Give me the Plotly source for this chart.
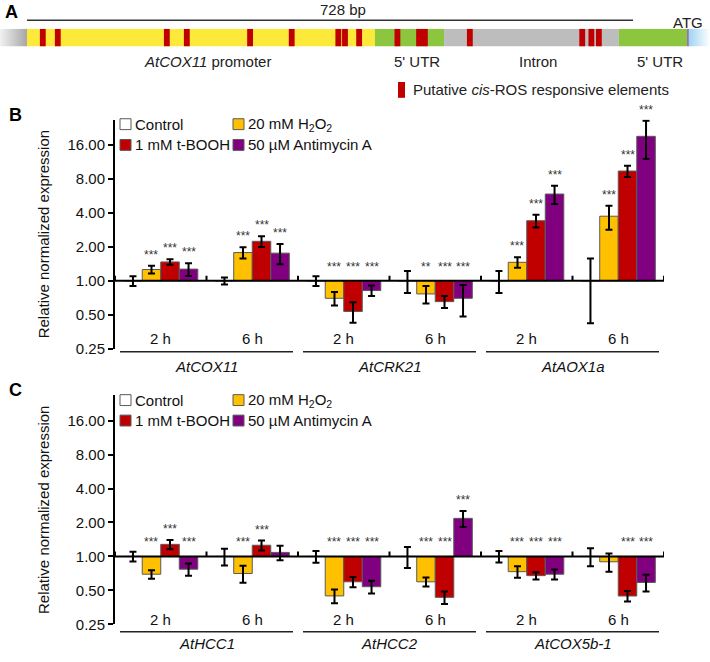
import numpy as np
import plotly.graph_objects as go

W, H = 710, 662
FONT = "Liberation Sans, Arial, sans-serif"
FS = 15

# ---------------- data ----------------
series_names = ["Control", "20 mM H<sub>2</sub>O<sub>2</sub>", "1 mM t-BOOH", "50 µM Antimycin A"]
series_colors = ["#FFFFFF", "#FFC000", "#C00000", "#800080"]
time_labels = ["2 h", "6 h"]
genes_b = ["AtCOX11", "AtCRK21", "AtAOX1a"]
genes_c = ["AtHCC1", "AtHCC2", "AtCOX5b-1"]
y_tick_vals = [0.25, 0.5, 1, 2, 4, 8, 16]
y_tick_text = ["0.25", "0.50", "1.00", "2.00", "4.00", "8.00", "16.00"]
y_title = "Relative normalized expression"

# Panel B (groups: gene x time)
b_control = [1.0, 1.0, 1.0, 1.0, 1.0, 1.0]
b_control_err = [0.10, 0.07, 0.10, 0.22, 0.22, 0.58]
b_h2o2 = [1.26, 1.78, 0.70, 0.765, 1.46, 3.74]
b_h2o2_err = [0.10, 0.20, 0.095, 0.134, 0.155, 0.90]
b_tbooh = [1.47, 2.24, 0.535, 0.654, 3.41, 9.40]
b_tbooh_err = [0.083, 0.25, 0.11, 0.08, 0.44, 1.07]
b_anti = [1.27, 1.76, 0.82, 0.70, 5.88, 19.1]
b_anti_err = [0.164, 0.36, 0.087, 0.217, 1.07, 7.1]
b_sig_h2o2 = ["***", "***", "***", "**", "***", "***"]
b_sig_tbooh = ["***", "***", "***", "***", "***", "***"]
b_sig_anti = ["***", "***", "***", "***", "***", "***"]

# Panel C
c_control = [1.0, 1.0, 1.0, 1.0, 1.0, 1.0]
c_control_err = [0.10, 0.17, 0.12, 0.21, 0.115, 0.18]
c_h2o2 = [0.696, 0.706, 0.447, 0.596, 0.733, 0.897]
c_h2o2_err = [0.06, 0.12, 0.062, 0.055, 0.087, 0.167]
c_tbooh = [1.28, 1.257, 0.596, 0.434, 0.676, 0.446]
c_tbooh_err = [0.12, 0.126, 0.062, 0.055, 0.05, 0.048]
c_anti = [0.771, 1.086, 0.539, 2.177, 0.696, 0.588]
c_anti_err = [0.095, 0.16, 0.07, 0.35, 0.07, 0.10]
c_sig_h2o2 = ["***", "***", "***", "***", "***", ""]
c_sig_tbooh = ["***", "***", "***", "***", "***", "***"]
c_sig_anti = ["***", "", "***", "***", "***", "***"]

# Panel A (positions in bp)
a_span_bp = 728
a_region_start = [0, 418, 501, 711]
a_region_end = [418, 501, 711, 793]
a_region_labels = ["<i>AtCOX11</i> promoter", "5' UTR", "Intron", "5' UTR"]
a_region_colors = ["#FCE93A", "#8CC63F", "#BDBDBD", "#8CC63F"]
a_atg_pos = 793
a_cis_pos = [19, 37, 168, 192, 268, 318, 374, 382, 399, 445, 471, 478, 532, 667, 678, 687]
a_cis_len = 7
a_cis_label = "Putative <i>cis</i>-ROS responsive elements"
a_cis_color = "#C00000"

# ---------------- helpers ----------------
def px_x(p):
    return p / W


def px_y(p):
    return 1 - p / H


def note(text, x, y, xref="paper", yref="paper", size=FS, color="#111",
         xanchor="center", yanchor="middle", **kw):
    fig.add_annotation(text=text, x=x, y=y, xref=xref, yref=yref, showarrow=False,
                       xanchor=xanchor, yanchor=yanchor,
                       font=dict(size=size, color=color, family=FONT), **kw)


fig = go.Figure()
BARGAP = 0.19
BAR_W = (1 - BARGAP) / 4


def add_panel(vals, errs, sigs, xa, ya, genes, y_time, y_line, y_gene, y_leg1, y_leg2):
    n = len(genes) * len(time_labels)
    xs = list(range(n))
    for k in range(4):
        fig.add_trace(go.Bar(
            x=xs, y=[v - 1 for v in vals[k]], base=[1] * n,
            name=series_names[k], showlegend=False,
            marker=dict(color=series_colors[k], line=dict(color="#5a5a5a", width=1)),
            error_y=dict(type="data", array=errs[k], symmetric=True, color="black",
                         thickness=2, width=3.5),
            customdata=vals[k], hovertemplate="%{customdata:.2f}<extra></extra>",
            xaxis=xa, yaxis=ya,
        ))
        if k == 0:
            continue
        for i, s in enumerate(sigs[k - 1]):
            if not s:
                continue
            v, e = vals[k][i], errs[k][i]
            up = v >= 1
            top = v + e if up else 1
            note(s, i + (k - 1.5) * BAR_W, np.log10(top), xref=xa, yref=ya,
                 size=12, color="#333", yanchor="bottom", yshift=2 if up else 5)
    # horizontal baseline at 1.00 with separators
    fig.add_shape(type="line", xref=xa, yref=ya, x0=-0.5, x1=n - 0.5, y0=1, y1=1,
                  line=dict(color="black", width=2))
    for b in range(n + 1):
        fig.add_shape(type="line", xref=xa, yref=ya, x0=b - 0.5, x1=b - 0.5,
                      ysizemode="pixel", yanchor=1, y0=-5, y1=5,
                      line=dict(color="black", width=2))
    pad = 5 / 91.5
    for g, gene in enumerate(genes):
        for t, lab in enumerate(time_labels):
            note(lab, 2 * g + t, px_y(y_time), xref=xa)
        fig.add_shape(type="line", xref=xa, yref="paper",
                      x0=2 * g - 0.5 + pad, x1=2 * g + 1.5 - pad,
                      y0=px_y(y_line), y1=px_y(y_line), line=dict(color="#222", width=1.5))
        note(f"<i>{gene}</i>", 2 * g + 0.5, px_y(y_gene), xref=xa)
    # legend (2 x 2 grid)
    col_x = [120, 233]
    row_y = [y_leg1, y_leg2]
    order = [(0, 0), (0, 1), (1, 0), (1, 1)]
    for k, (r, c) in enumerate(order):
        x0, yc = col_x[c], row_y[r]
        fig.add_shape(type="rect", xref="paper", yref="paper",
                      x0=px_x(x0), x1=px_x(x0 + 11), y0=px_y(yc + 5.5), y1=px_y(yc - 5.5),
                      fillcolor=series_colors[k], line=dict(color="#5a5a5a", width=1))
        note(series_names[k], px_x(x0 + 13), px_y(yc), xanchor="left")


add_panel([b_control, b_h2o2, b_tbooh, b_anti],
          [b_control_err, b_h2o2_err, b_tbooh_err, b_anti_err],
          [b_sig_h2o2, b_sig_tbooh, b_sig_anti],
          "x", "y", genes_b, 343, 356, 371, 125.7, 146.7)
add_panel([c_control, c_h2o2, c_tbooh, c_anti],
          [c_control_err, c_h2o2_err, c_tbooh_err, c_anti_err],
          [c_sig_h2o2, c_sig_tbooh, c_sig_anti],
          "x2", "y2", genes_c, 627, 639.5, 651, 405, 425.7)

# ---------------- panel A ----------------
px_per_bp = (633 - 27) / a_span_bp
a_x_min = -27 / px_per_bp
a_x_max = (W - 27) / px_per_bp

a_base = list(a_region_start) + [p - a_cis_len / 2 for p in a_cis_pos] + [a_atg_pos]
a_len = [e - s for s, e in zip(a_region_start, a_region_end)] + [a_cis_len] * len(a_cis_pos) + [2]
a_cols = list(a_region_colors) + [a_cis_color] * len(a_cis_pos) + ["#9B6FB8"]
fig.add_trace(go.Bar(orientation="h", y=[0] * len(a_base), x=a_len, base=a_base, width=1,
                     marker=dict(color=a_cols, line=dict(width=0)), showlegend=False,
                     hoverinfo="skip", xaxis="x3", yaxis="y3"))
# faded ends
fig.add_trace(go.Scatter(x=[a_x_min, 0, 0, a_x_min, a_x_min], y=[-0.5, -0.5, 0.5, 0.5, -0.5],
                         fill="toself", mode="lines", line=dict(width=0),
                         fillgradient=dict(type="horizontal",
                                           colorscale=[[0, "#f2f2f2"], [1, "#a6a6a6"]]),
                         showlegend=False, hoverinfo="skip", xaxis="x3", yaxis="y3"))
end_start = a_atg_pos + 2
fig.add_trace(go.Scatter(x=[end_start, a_x_max, a_x_max, end_start, end_start],
                         y=[-0.5, -0.5, 0.5, 0.5, -0.5],
                         fill="toself", mode="lines", line=dict(width=0),
                         fillgradient=dict(type="horizontal",
                                           colorscale=[[0, "#9ed4f0"], [1, "#ffffff"]]),
                         showlegend=False, hoverinfo="skip", xaxis="x3", yaxis="y3"))

fig.add_shape(type="line", xref="x3", yref="paper", x0=0, x1=a_span_bp,
              y0=px_y(20.5), y1=px_y(20.5), line=dict(color="#333", width=1.5))
note(f"{a_span_bp} bp", px_x(343), px_y(10), color="#222")
note("ATG", px_x(688), px_y(22.5), color="#222")
for s, e, lab in zip(a_region_start, a_region_end, a_region_labels):
    note(lab, (s + e) / 2, px_y(62), xref="x3", color="#222", xshift=7)
fig.add_shape(type="rect", xref="paper", yref="paper", x0=px_x(398), x1=px_x(405),
              y0=px_y(99), y1=px_y(83), fillcolor=a_cis_color, line=dict(width=0))
note(a_cis_label, px_x(411), px_y(91), xanchor="left", color="#222")

# panel letters
for lab, (lx, ly) in {"A": (12, 12), "B": (15, 116), "C": (15, 395)}.items():
    note(f"<b>{lab}</b>", px_x(lx), px_y(ly), size=18, color="#000")

# ---------------- axes ----------------
x_dom = [px_x(115), px_x(664)]
y_range = [np.log10(0.25), np.log10(2 ** 4.75)]
yax = dict(type="log", range=y_range, tickvals=y_tick_vals, ticktext=y_tick_text,
           ticks="outside", ticklen=5, tickwidth=1.5, tickcolor="black",
           showline=True, linecolor="black", linewidth=2, showgrid=False, zeroline=False,
           tickfont=dict(size=FS, color="#111"),
           title=dict(text=y_title, font=dict(size=FS, color="#111"), standoff=14))
xax = dict(range=[-0.5, 5.5], showline=False, showgrid=False, zeroline=False,
           showticklabels=False, ticks="")

fig.update_layout(
    width=W, height=H, margin=dict(l=0, r=0, t=0, b=0),
    paper_bgcolor="white", plot_bgcolor="rgba(0,0,0,0)",
    barmode="group", bargap=BARGAP, bargroupgap=0,
    font=dict(family=FONT, size=FS, color="#111"),
    xaxis=dict(domain=x_dom, anchor="y", **xax),
    yaxis=dict(domain=[px_y(353), px_y(121)], anchor="x", **yax),
    xaxis2=dict(domain=x_dom, anchor="y2", **xax),
    yaxis2=dict(domain=[px_y(632), px_y(400)], anchor="x2", **yax),
    xaxis3=dict(domain=[0, 1], anchor="y3", range=[a_x_min, a_x_max], visible=False),
    yaxis3=dict(domain=[px_y(47), px_y(29)], anchor="x3", range=[-0.5, 0.5], visible=False),
    showlegend=False,
)

fig.write_html("out.html", config={"displayModeBar": False},
               post_script="document.body.style.margin='0px';")
